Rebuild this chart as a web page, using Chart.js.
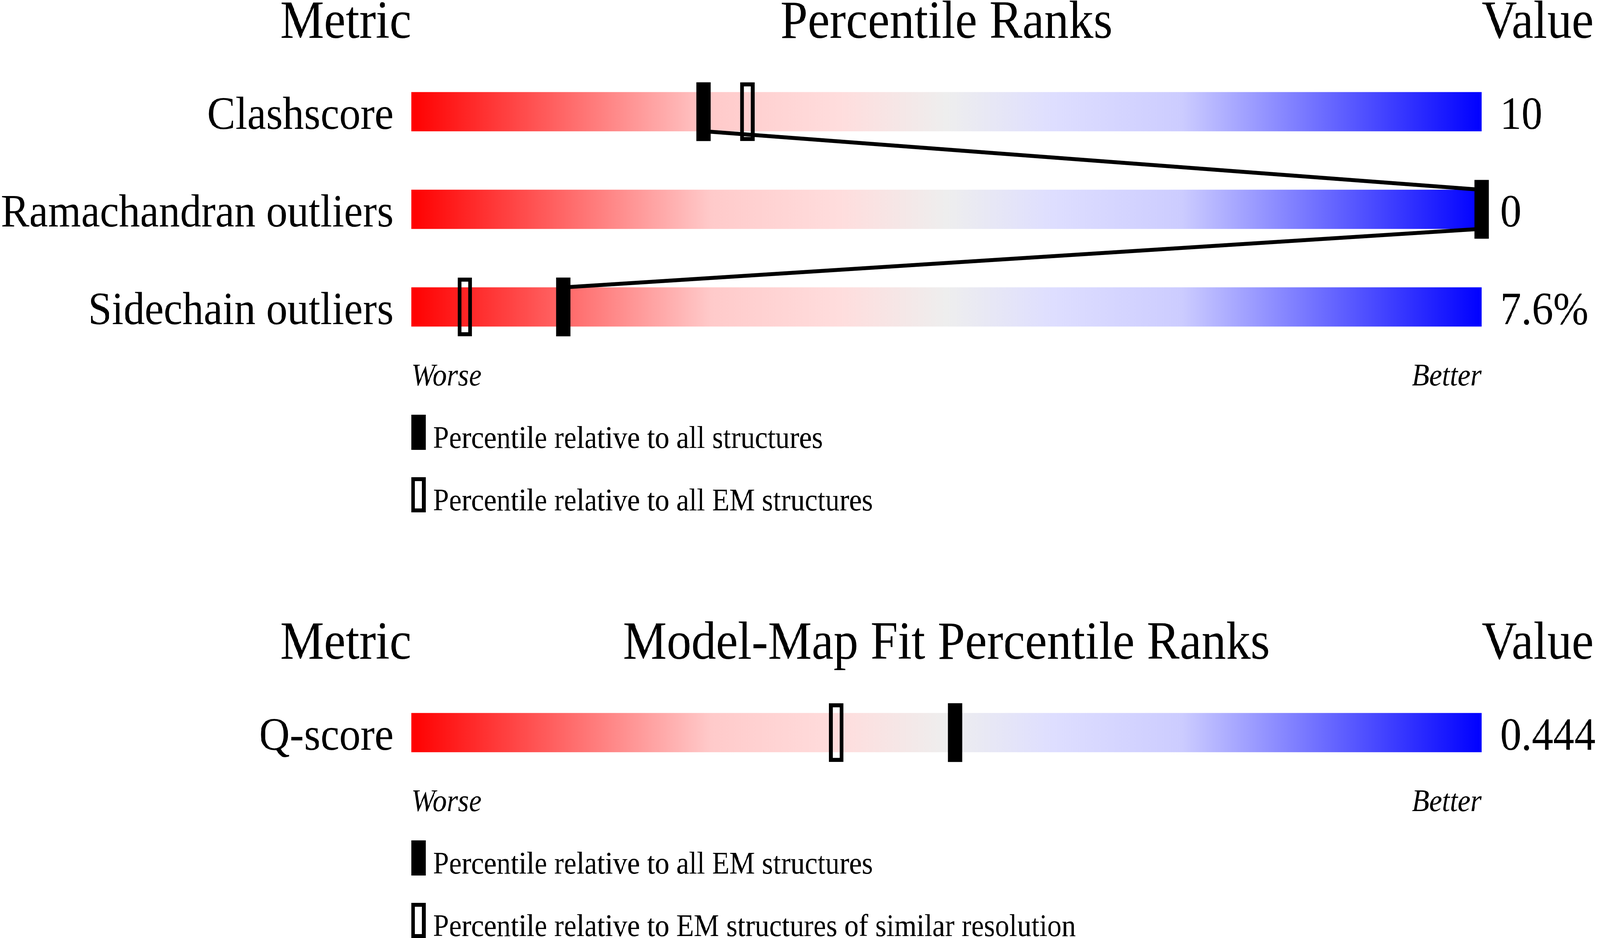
<!DOCTYPE html>
<html>
<head>
<meta charset="utf-8">
<script src="https://cdn.jsdelivr.net/npm/chart.js@4.4.1/dist/chart.umd.min.js"></script>
<style>
  html, body { margin: 0; padding: 0; background: #fff; overflow: hidden; }
  #frame { position: relative; overflow: hidden; width: 4485px; height: 2402px; }
  #page { width: 4485px; height: 2402px; position: absolute; left: 0; top: 0; transform-origin: 0 0; }
  canvas { position: absolute; left: 0; }
  #quality { top: 0; }
  #fit { top: 1380px; }
</style>
</head>
<body>
<div id="frame">
<div id="page">
<canvas id="quality" width="4485" height="1380"></canvas>
<canvas id="fit" width="4485" height="1022"></canvas>
</div>
</div>
<script>
// geometry quality sliders
var metrics = ['Clashscore', 'Ramachandran outliers', 'Sidechain outliers'];
var metricValues = ['10', '0', '7.6%'];
var pctAll = [27.3, 100, 14.2];
var pctEM = [31.4, 100, 5.0];
var qualityLegend = ['Percentile relative to all structures', 'Percentile relative to all EM structures'];

// model-map fit slider
var fitMetrics = ['Q-score'];
var fitValues = ['0.444'];
var fitPctEM = [50.8];
var fitPctRes = [39.7];
var fitLegend = ['Percentile relative to all EM structures', 'Percentile relative to EM structures of similar resolution'];

var SERIF = '"Liberation Serif", "Times New Roman", serif';
var HALF = 0.667; // half marker width in percentile units

// the page is laid out on a 4485 x 2402 sheet, stretch it over the real viewport
var sx = window.innerWidth / 4485, sy = window.innerHeight / 2402;
var frame = document.getElementById('frame');
frame.style.width = window.innerWidth + 'px';
frame.style.height = window.innerHeight + 'px';
document.getElementById('page').style.transform = 'scale(' + sx + ',' + sy + ')';

function sliderGradient(context) {
  var chart = context.chart, area = chart.chartArea;
  if (!area) return '#eeeeee';
  var g = chart.ctx.createLinearGradient(area.left, 0, area.right, 0);
  g.addColorStop(0, '#ff0000');
  g.addColorStop(0.28, '#ffcaca');
  g.addColorStop(0.40, '#ffdddd');
  g.addColorStop(0.50, '#eeeeee');
  g.addColorStop(0.60, '#dedeff');
  g.addColorStop(0.72, '#ccccff');
  g.addColorStop(1, '#0000ff');
  return g;
}

var decor = {
  id: 'decor',
  afterDraw: function(chart, args, opts) {
    var a = chart.chartArea, ctx = chart.ctx;
    ctx.save();
    ctx.fillStyle = '#000';
    ctx.strokeStyle = '#000';
    ctx.textBaseline = 'alphabetic';
    ctx.font = '138px ' + SERIF;
    ctx.textAlign = 'right';
    ctx.fillText('Metric', a.left, a.top - 64);
    ctx.textAlign = 'center';
    ctx.fillText(opts.title, (a.left + a.right) / 2, a.top - 64);
    ctx.textAlign = 'left';
    ctx.fillText('Value', a.right, a.top - 64);

    ctx.font = 'italic 80px ' + SERIF;
    ctx.fillText('Worse', a.left, a.bottom + 76);
    ctx.textAlign = 'right';
    ctx.fillText('Better', a.right, a.bottom + 76);

    ctx.font = '80px ' + SERIF;
    ctx.textAlign = 'left';
    for (var i = 0; i < opts.legend.length; i++) {
      var top = a.bottom + 151 + i * 160;
      if (i == 0) {
        ctx.fillRect(a.left, top, 40, 90);
      } else {
        ctx.lineWidth = 10;
        ctx.strokeRect(a.left + 5, top + 5, 30, 80);
      }
      ctx.fillText(opts.legend[i], a.left + 61, top + 85);
    }
    ctx.restore();
  }
};

// joins the filled markers: bottom of one bar to top of the next
var connector = {
  id: 'connector',
  afterDatasetsDraw: function(chart, args, opts) {
    if (!opts.pct) return;
    var bars = chart.getDatasetMeta(0).data;
    var xs = chart.scales.x;
    var ctx = chart.ctx;
    ctx.save();
    ctx.strokeStyle = '#000';
    ctx.lineWidth = 10;
    ctx.lineCap = 'butt';
    for (var i = 0; i < opts.pct.length - 1; i++) {
      var b1 = bars[i], b2 = bars[i + 1];
      ctx.beginPath();
      ctx.moveTo(xs.getPixelForValue(opts.pct[i]), b1.y + b1.height / 2);
      ctx.lineTo(xs.getPixelForValue(opts.pct[i + 1]), b2.y - b2.height / 2);
      ctx.stroke();
    }
    ctx.restore();
  }
};

function axisStyle(pad, width, pos, labels) {
  var s = {
    type: 'category',
    position: pos,
    offset: true,
    grid: { display: false, drawTicks: false },
    border: { display: false },
    ticks: { color: '#000', font: { family: SERIF, size: 119 }, padding: pad, labelOffset: 13 },
    afterFit: function(scale) { scale.width = width; }
  };
  if (labels) s.labels = labels;
  return s;
}

function buildSlider(id, labels, values, filled, open, title, legend, padTop, padBottom, connect) {
  return new Chart(document.getElementById(id), {
    type: 'bar',
    data: {
      labels: labels,
      datasets: [{
        data: labels.map(function() { return [0, 100]; }),
        backgroundColor: sliderGradient,
        barThickness: 100,
        grouped: false,
        order: 3
      }, {
        data: open.map(function(p) { return [p - HALF, p + HALF]; }),
        backgroundColor: 'rgba(0,0,0,0)',
        borderColor: '#000',
        borderWidth: 10,
        borderSkipped: false,
        barThickness: 150,
        grouped: false,
        clip: false,
        order: 2
      }, {
        data: filled.map(function(p) { return [p - HALF, p + HALF]; }),
        backgroundColor: '#000',
        barThickness: 150,
        grouped: false,
        clip: false,
        order: 1
      }]
    },
    options: {
      indexAxis: 'y',
      responsive: false,
      animation: false,
      events: [],
      devicePixelRatio: 1,
      layout: { padding: { top: padTop, bottom: padBottom, left: 0, right: 0 } },
      scales: {
        x: { type: 'linear', min: 0, max: 100, display: false },
        y: axisStyle(50, 1153, 'left'),
        y2: axisStyle(52, 332, 'right', values)
      },
      plugins: {
        legend: { display: false },
        tooltip: { enabled: false },
        decor: { title: title, legend: legend },
        connector: { pct: connect ? filled : null }
      }
    },
    plugins: [decor, connector]
  });
}

buildSlider('quality', metrics, metricValues, pctAll, pctEM, 'Percentile Ranks', qualityLegend, 161, 469, true);
buildSlider('fit', fitMetrics, fitValues, fitPctEM, fitPctRes, 'Model-Map Fit Percentile Ranks', fitLegend, 371, 401, false);
</script>
</body>
</html>
